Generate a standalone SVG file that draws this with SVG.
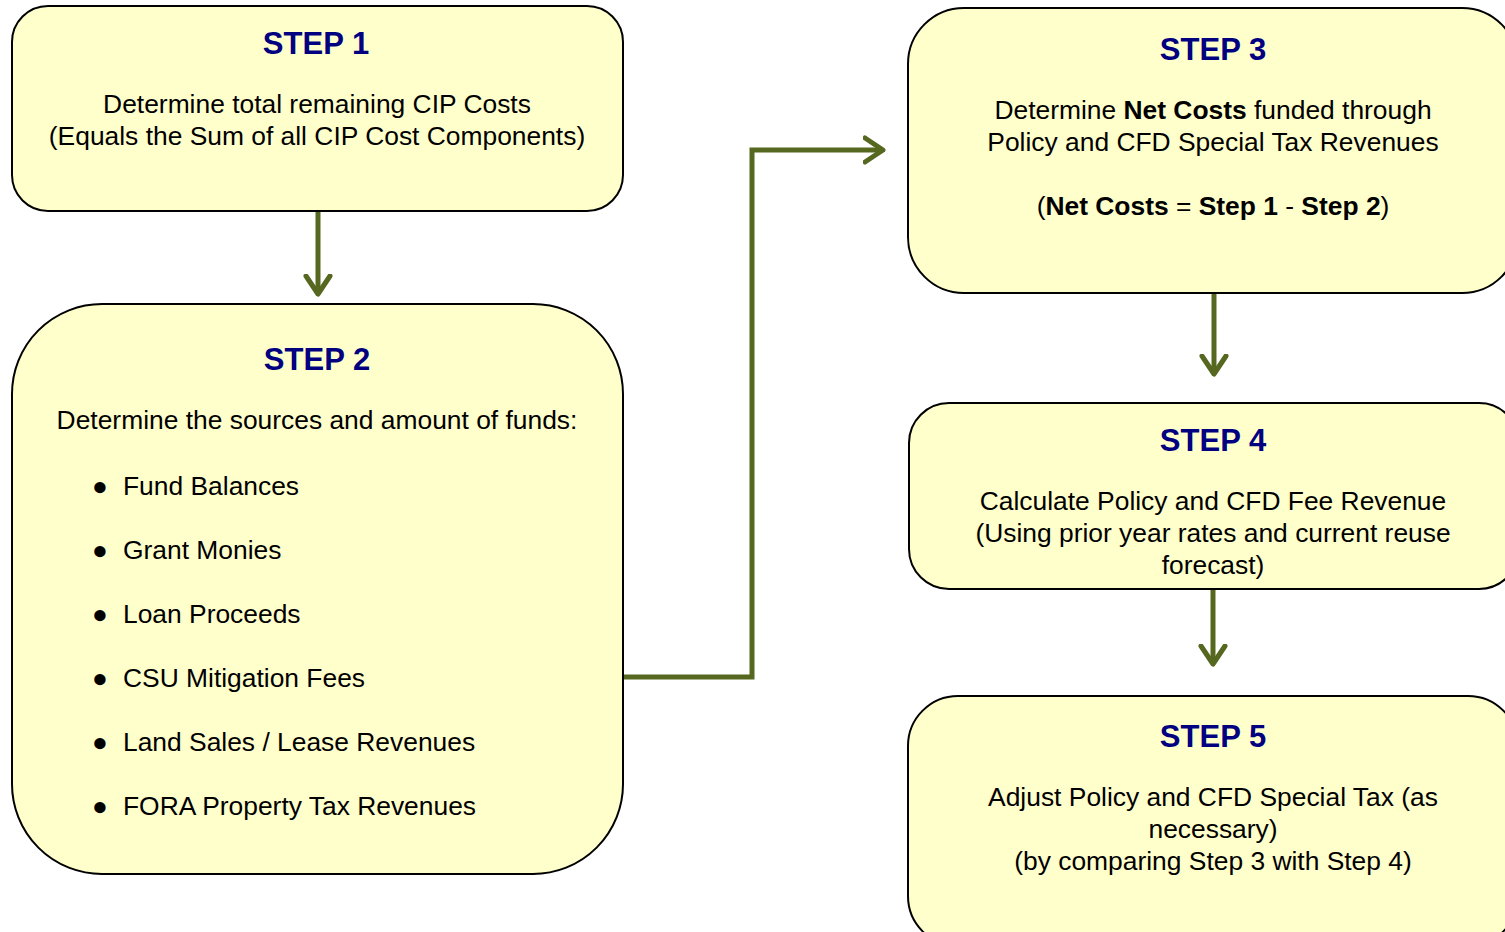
<svg xmlns="http://www.w3.org/2000/svg" width="1505" height="932" viewBox="0 0 1505 932">
<style>
.box{fill:#FFFFCC;stroke:#000;stroke-width:2}
.t{font-family:"Liberation Sans",Arial,sans-serif;font-size:26.4px;fill:#000;text-anchor:middle}
.l{font-family:"Liberation Sans",Arial,sans-serif;font-size:26.4px;fill:#000}
.h{font-family:"Liberation Sans",Arial,sans-serif;font-size:31px;font-weight:bold;fill:#000080;text-anchor:middle}
.b{font-weight:bold}
.c{fill:none;stroke:#56671F;stroke-width:5}
</style>
<defs>
<marker id="ah" markerUnits="userSpaceOnUse" markerWidth="40" markerHeight="40" viewBox="-20 -20 40 40" refX="0" refY="0" orient="auto">
<path d="M-18,-12 L0,0 L-18,12" fill="none" stroke="#56671F" stroke-width="5" stroke-linecap="round" stroke-linejoin="round"/>
</marker>
</defs>
<rect width="1505" height="932" fill="#fff"/>
<g id="connectors">
<line class="c" x1="318" y1="211" x2="318" y2="294" marker-end="url(#ah)"/>
<polyline class="c" points="623,677 752,677 752,150 883,150" marker-end="url(#ah)"/>
<line class="c" x1="1214" y1="293" x2="1214" y2="374" marker-end="url(#ah)"/>
<line class="c" x1="1213" y1="589" x2="1213" y2="664" marker-end="url(#ah)"/>
</g>
<g id="step1">
<rect class="box" x="12" y="6" width="611" height="205" rx="36" ry="36"/>
<text class="h" x="316" y="54">STEP 1</text>
<text class="t" x="317" y="113">Determine total remaining CIP Costs</text>
<text class="t" x="317" y="145">(Equals the Sum of all CIP Cost Components)</text>
</g>
<g id="step2">
<rect class="box" x="12" y="304" width="611" height="570" rx="90" ry="90"/>
<text class="h" x="317" y="370">STEP 2</text>
<text class="t" x="317" y="429">Determine the sources and amount of funds:</text>
<g class="l">
<text x="92" y="495">●</text><text x="123" y="495">Fund Balances</text>
<text x="92" y="559">●</text><text x="123" y="559">Grant Monies</text>
<text x="92" y="623">●</text><text x="123" y="623">Loan Proceeds</text>
<text x="92" y="687">●</text><text x="123" y="687">CSU Mitigation Fees</text>
<text x="92" y="751">●</text><text x="123" y="751">Land Sales / Lease Revenues</text>
<text x="92" y="815">●</text><text x="123" y="815">FORA Property Tax Revenues</text>
</g>
</g>
<g id="step3">
<rect class="box" x="908" y="8" width="610" height="285" rx="56" ry="56"/>
<text class="h" x="1213" y="60">STEP 3</text>
<text class="t" x="1213" y="119">Determine <tspan class="b">Net Costs</tspan> funded through</text>
<text class="t" x="1213" y="151">Policy and CFD Special Tax Revenues</text>
<text class="t" x="1213" y="215">(<tspan class="b">Net Costs</tspan> = <tspan class="b">Step 1</tspan> - <tspan class="b">Step 2</tspan>)</text>
</g>
<g id="step4">
<rect class="box" x="909" y="403" width="610" height="186" rx="40" ry="40"/>
<text class="h" x="1213" y="451">STEP 4</text>
<text class="t" x="1213" y="510">Calculate Policy and CFD Fee Revenue</text>
<text class="t" x="1213" y="542">(Using prior year rates and current reuse</text>
<text class="t" x="1213" y="574">forecast)</text>
</g>
<g id="step5">
<rect class="box" x="908" y="696" width="610" height="250" rx="50" ry="50"/>
<text class="h" x="1213" y="747">STEP 5</text>
<text class="t" x="1213" y="806">Adjust Policy and CFD Special Tax (as</text>
<text class="t" x="1213" y="838">necessary)</text>
<text class="t" x="1213" y="870">(by comparing Step 3 with Step 4)</text>
</g>
</svg>
